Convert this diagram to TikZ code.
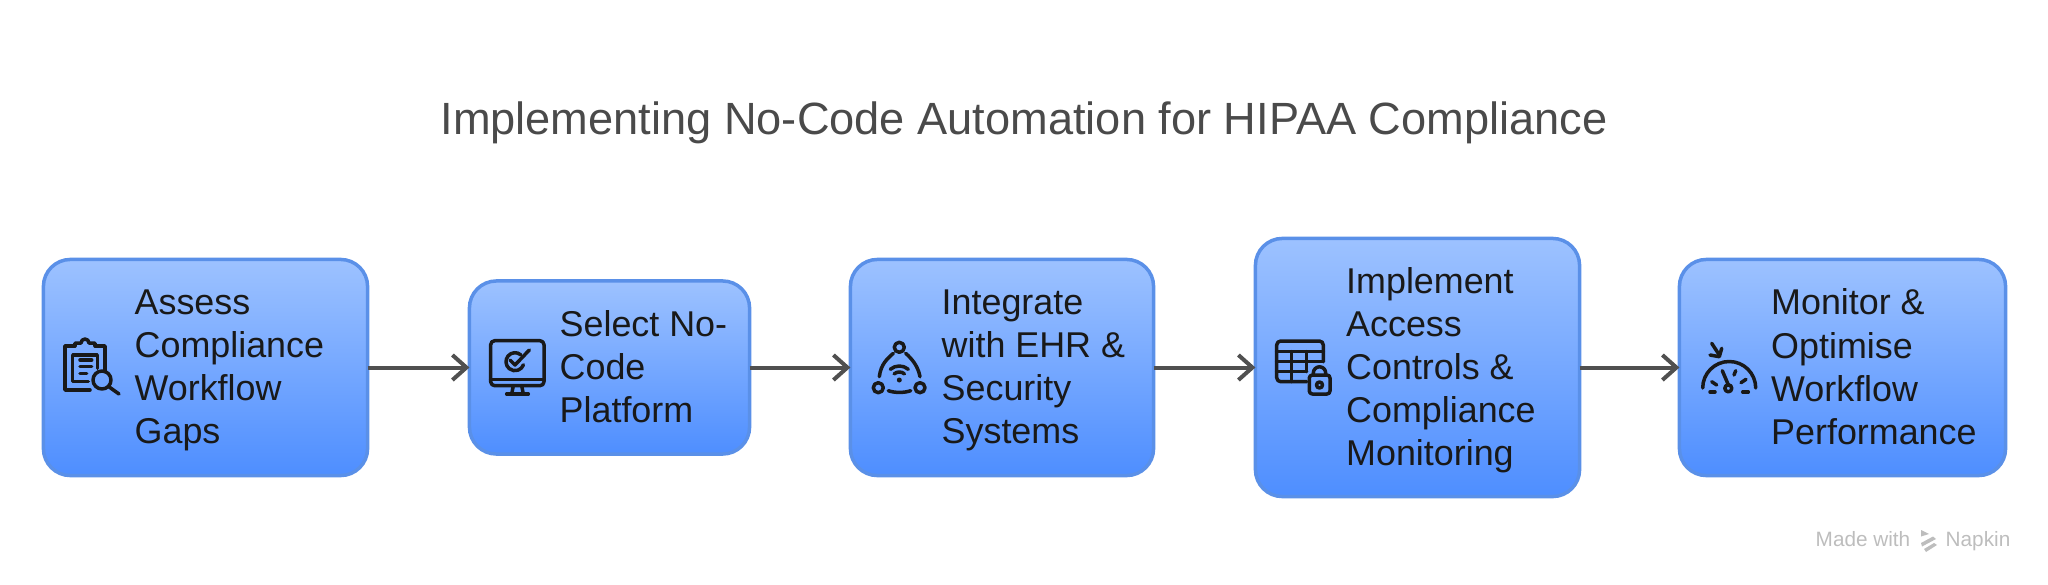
\documentclass[tikz,border=0pt]{standalone}
\usepackage{fontspec}
\setmainfont{Liberation Sans}
\usetikzlibrary{arrows.meta}
\definecolor{boxtop}{HTML}{9DC2FF}
\definecolor{boxbot}{HTML}{4E8EFF}
\definecolor{boxedge}{HTML}{5A90E8}
\definecolor{arrowgray}{HTML}{505050}
\definecolor{titlegray}{HTML}{4A4A4A}
\definecolor{markgray}{HTML}{BDBDBD}
\begin{document}
\begin{tikzpicture}[x=0.01cm,y=0.01cm,>={Straight Barb[length=0.14cm,width=0.25cm,line width=0.04cm]},
	stepbox/.style={draw=boxedge,line width=0.035cm,rounded corners=0.27cm,top color=boxtop,bottom color=boxbot,outer sep=0pt},
	steptext/.style={anchor=west,align=left,inner sep=0pt,text=black!90,font=\fontsize{10.2}{12.24}\selectfont,execute at begin node=\strut,execute at end node=\strut},
	flow/.style={draw=arrowgray,line width=0.04cm,->},
	iconline/.style={line width=0.035cm,black!90,line cap=round,line join=round},
	marktext/.style={inner sep=0pt,text=markgray,font=\fontsize{5.9}{7}\selectfont}]
	\useasboundingbox (0,0) rectangle (2048,584);
	\node[inner sep=0pt,text=titlegray,font=\fontsize{12.85}{15}\selectfont] (title) at (1024,461) {Implementing No-Code Automation for HIPAA Compliance};

	\node[stepbox,minimum width=3.24cm,minimum height=2.16cm] (assess) at (205.5,216.5) {};
	\node[stepbox,minimum width=2.80cm,minimum height=1.73cm] (platform) at (609.5,216.5) {};
	\node[stepbox,minimum width=3.03cm,minimum height=2.16cm] (integrate) at (1002,216.5) {};
	\node[stepbox,minimum width=3.24cm,minimum height=2.58cm] (access) at (1417.5,216.5) {};
	\node[stepbox,minimum width=3.26cm,minimum height=2.16cm] (monitor) at (1842.5,216.5) {};

	\node[steptext] (assesstext) at (134,211) {Assess\\Compliance\\Workflow\\Gaps};
	\node[steptext] (platformtext) at (559,211) {Select No-\\Code\\Platform};
	\node[steptext] (integratetext) at (941,211) {Integrate\\with EHR \&\\Security\\Systems};
	\node[steptext] (accesstext) at (1345.5,211) {Implement\\Access\\Controls \&\\Compliance\\Monitoring};
	\node[steptext] (monitortext) at (1770.5,211) {Monitor \&\\Optimise\\Workflow\\Performance};

	\draw[flow] (assess.east) -- (platform.west);
	\draw[flow] (platform.east) -- (integrate.west);
	\draw[flow] (integrate.east) -- (access.west);
	\draw[flow] (access.east) -- (monitor.west);

	\draw[iconline] (75,238)--(65,238)--(65,194)--(90,194);
	\draw[iconline] (95,238)--(105,238)--(105,212.3);
	\draw[iconline] (75,238)--(75,241)--(81,241) arc (180:0:4)--(95,241)--(95,238);
	\draw[iconline] (97.3,215.7)--(97.3,229)--(72.7,229)--(72.7,202.3)--(88.3,202.3);
	\draw[iconline] (80,224)--(91.7,224);
	\draw[iconline] (80,217.3)--(91.7,217.3);
	\draw[iconline] (80,210.7)--(86.7,210.7);
	\draw[iconline] (102,204) circle (9);
	\draw[iconline] (108.5,197.5)--(119,190);

	\draw[iconline,rounded corners=0.04cm] (490.7,198.3) rectangle (544,243.3);
	\draw[iconline] (490.7,204.7)--(544,204.7);
	\draw[iconline] (513.3,198.3)--(511.7,190);
	\draw[iconline] (521.7,198.3)--(523.3,190);
	\draw[iconline] (506.7,190)--(528.3,190);
	\draw[iconline] (515,222.3) ++(50:9) arc (50:340:9);
	\draw[iconline] (510,224)--(515,219)--(529.3,234);

	\draw[iconline] (899.3,236.7) circle (5);
	\draw[iconline] (878.3,196.3) circle (5);
	\draw[iconline] (920,196.3) circle (5);
	\draw[iconline] (879.3,207.3) .. controls (881,220) and (887,225) .. (893.3,230.7);
	\draw[iconline] (905.7,230.7) .. controls (912,225) and (918,218) .. (920,207.3);
	\draw[iconline] (888.3,193.3) .. controls (895,191) and (904,191) .. (910.7,193.3);
	\fill[black!90] (899.3,204) circle (2.5);
	\draw[iconline] (899.3,204) ++(50:14) arc (50:130:14);
	\draw[iconline] (899.3,204) ++(50:8) arc (50:130:8);

	\draw[iconline,rounded corners=0.04cm] (1323.3,222.3)--(1323.3,243)--(1276.7,243)--(1276.7,202.3)--(1306.7,202.3);
	\draw[iconline] (1276.7,232.3)--(1323.3,232.3);
	\draw[iconline] (1276.7,222.3)--(1323.3,222.3);
	\draw[iconline] (1276.7,212.3)--(1306.7,212.3);
	\draw[iconline] (1291.7,232.3)--(1291.7,202.3);
	\draw[iconline] (1306.7,232.3)--(1306.7,212.3);
	\draw[iconline,rounded corners=0.03cm] (1309.3,190) rectangle (1330,209);
	\draw[iconline] (1313.3,209)--(1313.3,211) arc (180:0:6.2)--(1325.7,209);
	\draw[iconline] (1319.5,199) circle (3);

	\draw[iconline] (1702.7,196) arc (180:0:26.5);
	\draw[iconline] (1728.3,195.7) circle (3.5);
	\draw[iconline] (1728.3,199.2)--(1722.3,213.3);
	\draw[iconline] (1710,192)--(1715,192);
	\draw[iconline] (1711.7,202.3)--(1716.7,199);
	\draw[iconline] (1734,209)--(1735.7,213.3);
	\draw[iconline] (1741,201.3)--(1746,204.7);
	\draw[iconline] (1742.7,192)--(1748.3,192);
	\draw[iconline] (1711.7,240.7)--(1719.3,229);
	\draw[iconline] (1710,229)--(1719.3,227.3)--(1721.7,235.7);

	\node[marktext,anchor=base west] (madewith) at (1815,38) {Made with};
	\node[marktext,anchor=base west] (napkin) at (1945,38) {Napkin};
	\fill[markgray] (1921,54)--(1929,50)--(1921,47.5)--cycle;
	\fill[markgray] (1921,41)--(1933,47.5)--(1936,45)--(1922,37.5)--cycle;
	\fill[markgray] (1924,35)--(1934,41)--(1937,39)--(1926,32)--cycle;
\end{tikzpicture}
\end{document}
